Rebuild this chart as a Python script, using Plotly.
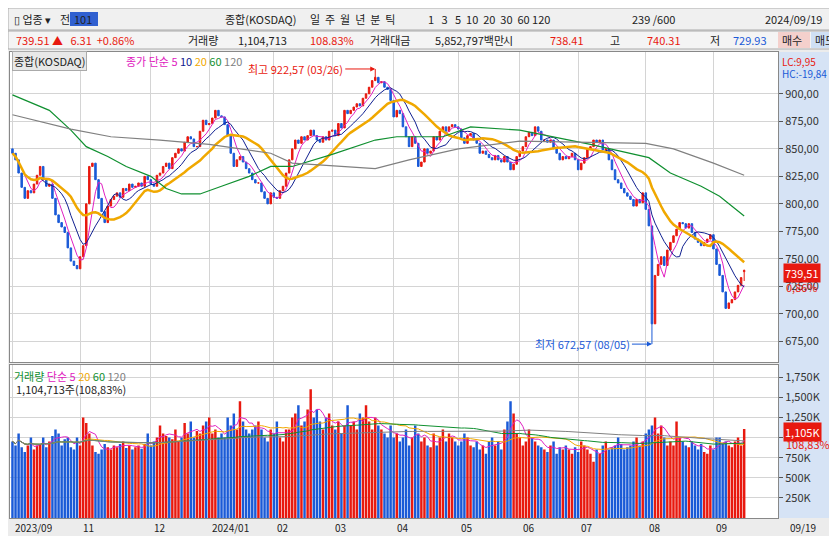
import numpy as np
import pandas as pd
import plotly.graph_objects as go
from plotly.subplots import make_subplots

# daily closes of KOSDAQ composite (239 sessions)
CLOSES = [
    846, 840, 828, 815, 805, 812, 810, 818, 826, 834,
    822, 816, 818, 805, 790, 783, 779, 774, 760, 748,
    744, 741, 752, 762, 800, 834, 837, 822, 805, 793,
    783, 798, 804, 807, 810, 806, 814, 812, 818, 815,
    816, 819, 816, 825, 822, 818, 816, 826, 828, 834,
    837, 832, 842, 846, 850, 848, 856, 861, 859, 852,
    852, 866, 876, 872, 873, 878, 885, 880, 879, 872,
    862, 846, 834, 840, 843, 838, 832, 828, 822, 819,
    819, 811, 805, 800, 810, 806, 805, 812, 816, 828,
    840, 850, 858, 855, 861, 858, 862, 867, 862, 858,
    856, 861, 858, 866, 867, 862, 873, 869, 885, 882,
    885, 888, 891, 889, 896, 900, 906, 912, 915, 910,
    911, 906, 904, 894, 879, 885, 882, 870, 861, 852,
    861, 855, 834, 838, 850, 846, 848, 861, 858, 866,
    870, 866, 870, 872, 870, 868, 860, 855, 862, 864,
    858, 855, 846, 848, 845, 842, 840, 844, 840, 838,
    843, 838, 831, 836, 843, 848, 852, 861, 865, 862,
    870, 866, 858, 858, 856, 858, 850, 846, 840, 843,
    841, 843, 846, 840, 831, 837, 842, 850, 852, 858,
    856, 858, 849, 850, 840, 831, 822, 819, 814, 810,
    807, 804, 798, 804, 801, 810, 795, 780, 691, 735,
    745, 752, 744, 758, 765, 771, 777, 783, 782, 778,
    782, 774, 768, 765, 762, 765, 768, 772, 759, 745,
    735, 720, 705, 710, 713, 720, 726, 733, 739.51,
]
FIRST_OPEN = 850
HIGH_DAY, HIGH_VALUE = 118, 922.57
LOW_DAY, LOW_VALUE = 208, 672.57
LAST_OPEN, LAST_HIGH, LAST_LOW = 738.41, 740.31, 729.93

# volume in thousand shares
VOLUMES = [
    950, 900, 1050, 880, 820, 900, 1000, 850, 900, 920,
    1000, 880, 950, 1020, 1100, 1050, 900, 980, 1000, 880,
    850, 1000, 900, 1250, 1180, 1050, 900, 820, 800, 850,
    920, 880, 850, 900, 880, 920, 950, 870, 900, 850,
    880, 900, 860, 920, 1050, 900, 950, 1000, 1150, 1050,
    1020, 1000, 980, 1100, 950, 1000, 1180, 1050, 1200, 1000,
    1080, 1050, 1150, 1200, 1250, 1050, 1100, 1000, 1050, 1000,
    1250, 1150, 1300, 1100, 1450, 1200, 1100, 1050, 1100, 1150,
    1200, 1100, 1000, 950, 1100, 1050, 1200, 1000, 950, 1100,
    1100, 1250, 1300, 1400, 1150, 1200, 1350, 1600, 1250, 1350,
    1200, 1100, 1250, 1300, 1150, 1100, 1200, 1050, 1150, 1400,
    1150, 1200, 1100, 1300, 1250, 1400, 1200, 1100, 1250, 1150,
    1100, 1050, 1000, 1150, 1000, 1050, 950, 1000, 1100, 900,
    1000, 1150, 1050, 950, 1000, 900, 880, 1050, 900, 1000,
    1100, 950, 1050, 1000, 950, 900, 950, 1050, 1000, 900,
    880, 950, 850, 900, 800, 950, 1000, 900, 950, 850,
    1100, 1200, 1450, 1300, 1050, 1000, 900, 950, 1100, 1000,
    950, 900, 880, 850, 820, 900, 950, 800, 880, 850,
    900, 850, 800, 880, 820, 950, 900, 850, 800, 700,
    850, 800, 900, 950, 850, 880, 900, 1000, 920, 850,
    880, 900, 950, 1000, 900, 950, 1050, 1100, 1150, 1250,
    1050, 1150, 1000, 900, 950, 900, 1200, 1000, 950, 900,
    880, 950, 900, 850, 920, 820, 800, 900, 850, 1000,
    1000, 920, 950, 900, 880, 950, 1000, 900, 1105,
]

# 60 / 120 day averages (day index, value)
MA60_DAYS = [0, 12, 19, 24, 31, 37, 45, 50, 55, 61, 68, 77, 84, 91, 104, 118, 125, 140, 149, 165, 188, 207, 214, 224, 230, 238]
MA60_VALS = [899, 885, 867, 852, 843, 834, 825, 814, 809, 809, 816, 825, 834, 834, 845, 858, 861, 861, 870, 867, 854, 842, 828, 816, 807, 789]
MA120_DAYS = [0, 19, 32, 48, 64, 84, 91, 118, 129, 145, 165, 206, 215, 228, 238]
MA120_VALS = [881, 868, 861, 858, 854, 846, 837, 832, 840, 850, 857, 855, 850, 837, 826]

MONTH_DAYS = [0, 22, 45, 64, 85, 104, 124, 145, 165, 184, 206, 228]
MONTH_TEXT = ["2023/09", "11", "12", "2024/01", "02", "03", "04", "05", "06", "07", "08", "09"]
PRICE_TICKS = [675, 700, 725, 750, 775, 800, 825, 850, 875, 900]
VOL_TICKS = [250, 500, 750, 1000, 1250, 1500, 1750]

RED, BLUE = "#e8190f", "#1a5ad7"
FONT = "Noto Sans CJK KR"

n = len(CLOSES)
x = np.arange(n)
close = pd.Series(CLOSES, dtype=float)
opens = close.shift(1).fillna(FIRST_OPEN)
opens.iloc[-1] = LAST_OPEN
high = np.maximum(opens, close)
low = np.minimum(opens, close)
high[HIGH_DAY] = HIGH_VALUE
low[LOW_DAY] = LOW_VALUE
high.iloc[-1] = LAST_HIGH
low.iloc[-1] = LAST_LOW
up = close >= opens

vol = pd.Series(VOLUMES, dtype=float)

fig = make_subplots(rows=2, cols=1, shared_xaxes=True, vertical_spacing=0.006,
                    row_heights=[0.67, 0.33])

for mask, col in [(up, RED), (~up, BLUE)]:
    fig.add_trace(go.Candlestick(
        x=x[mask], open=opens[mask], high=high[mask], low=low[mask], close=close[mask],
        increasing=dict(line=dict(color=col, width=1), fillcolor=col),
        decreasing=dict(line=dict(color=col, width=1), fillcolor=col),
        whiskerwidth=0, showlegend=False), row=1, col=1)

for w, col, lw in [(5, "#e020c0", 1), (10, "#102090", 1), (20, "#f0a800", 2.5)]:
    fig.add_trace(go.Scatter(x=x, y=close.rolling(w, min_periods=1).mean(), mode="lines",
                             line=dict(color=col, width=lw), showlegend=False), row=1, col=1)
fig.add_trace(go.Scatter(x=MA60_DAYS, y=MA60_VALS, mode="lines",
                         line=dict(color="#109030", width=1.2), showlegend=False), row=1, col=1)
fig.add_trace(go.Scatter(x=MA120_DAYS, y=MA120_VALS, mode="lines",
                         line=dict(color="#808080", width=1.2), showlegend=False), row=1, col=1)

fig.add_trace(go.Bar(x=x, y=vol, marker=dict(color=np.where(up, RED, BLUE), line_width=0),
                     width=0.8, showlegend=False), row=2, col=1)
for w, col in [(5, "#e020c0"), (20, "#f0a800"), (60, "#109030"), (120, "#808080")]:
    fig.add_trace(go.Scatter(x=x, y=vol.rolling(w, min_periods=1).mean(), mode="lines",
                             line=dict(color=col, width=1), showlegend=False), row=2, col=1)

grid = "#d4d4d4"
fig.update_xaxes(range=[-0.8, 249], tickvals=MONTH_DAYS, showgrid=True, gridcolor=grid,
                 rangeslider_visible=False, showline=True, linecolor="#888", mirror=True,
                 ticks="", zeroline=False, showticklabels=False)
fig.update_yaxes(side="right", showgrid=True, gridcolor=grid, showline=True, linecolor="#888",
                 mirror=True, ticks="outside", ticklen=4, tickcolor="#555",
                 tickfont=dict(size=11, color="#333"), zeroline=False)
fig.update_yaxes(range=[656, 938], tickvals=PRICE_TICKS,
                 ticktext=[f"{v},00" for v in PRICE_TICKS], row=1, col=1)
fig.update_yaxes(range=[0, 1900], tickvals=VOL_TICKS,
                 ticktext=[f"{v:,}K" for v in VOL_TICKS], row=2, col=1)

ann = []
def txt(xp, yp, s, col="#222", size=11, anchor="left", **kw):
    ann.append(dict(x=xp, y=yp, xref="paper", yref="paper", text=s, showarrow=False,
                    xanchor=anchor, yanchor="middle", font=dict(color=col, size=size, family=FONT), **kw))

def px_(xp):
    return (xp - 2) / 768

def py_(yp):
    return 1 - (yp - 44) / 466

# month labels under the volume panel, placed from the day index
for d, s in zip(MONTH_DAYS, MONTH_TEXT):
    ann.append(dict(x=d, y=0, xref="x2", yref="paper", text=s, showarrow=False,
                    xanchor="left", yanchor="top", xshift=1, height=15, valign="middle",
                    font=dict(color="#222", size=10, family=FONT)))

txt(px_(4), py_(53), "종합(KOSDAQ)", bgcolor="#e8e8e8", bordercolor="#aaa")
txt(px_(116), py_(53), "<span style='color:#e020c0'>종가 단순 5</span> <span style='color:#102090'>10</span> "
    "<span style='color:#f0a800'>20</span> <span style='color:#109030'>60</span> <span style='color:#808080'>120</span>")
txt(px_(4), py_(368), "<span style='color:#109030'>거래량</span> <span style='color:#e020c0'>단순 5</span> "
    "<span style='color:#f0a800'>20</span> <span style='color:#109030'>60</span> <span style='color:#808080'>120</span>")
txt(px_(6), py_(381), "1,104,713주(108,83%)")
txt(px_(772), py_(54), "LC:9,95", col=RED, size=10)
txt(px_(772), py_(66), "HC:-19,84", col=BLUE, size=10)
txt(px_(775), py_(265), "739,51", col="white", bgcolor=RED)
txt(px_(776), py_(279), "0,86%", col=RED)
txt(px_(775), py_(424), "1,105K", col="white", bgcolor=RED)
txt(px_(776), py_(436), "108,83%", col=RED)
ann.append(dict(x=px_(780), y=0, xref="paper", yref="paper", text="09/19", showarrow=False,
                xanchor="left", yanchor="top", height=15, valign="middle",
                font=dict(color="#222", size=10, family=FONT)))

top = [(4, "▯ 업종 ▾"), (50, "전"), (64, "101"),
       (215, "종합(KOSDAQ)"), (300, "일  주  월  년  분  틱"),
       (418, "1   3   5  10  20  30  60 120"), (622, "239 /600"), (755, "2024/09/19")]
for xp, s in top:
    txt(px_(xp), py_(11), s)
info = [(6, "739.51 ▲   6.31  +0.86%", RED), (178, "거래량", "#222"), (228, "1,104,713", "#222"),
        (300, "108.83%", RED), (360, "거래대금", "#222"), (425, "5,852,797백만", "#222"),
        (493, "시", "#222"), (540, "738.41", RED), (600, "고", "#222"), (637, "740.31", RED),
        (700, "저", "#222"), (723, "729.93", BLUE), (772, "매수", "#222"), (805, "매도", "#222")]
for xp, s, c in info:
    txt(px_(xp), py_(32), s, col=c)

fig.add_annotation(x=HIGH_DAY, y=HIGH_VALUE, xref="x", yref="y", text="최고 922,57 (03/26)",
                   showarrow=True, arrowhead=2, arrowcolor=RED, ax=-30, ay=0, xanchor="right",
                   font=dict(color=RED, size=11, family=FONT))
fig.add_annotation(x=LOW_DAY, y=LOW_VALUE, xref="x", yref="y", text="최저 672,57 (08/05)",
                   showarrow=True, arrowhead=2, arrowcolor=BLUE, ax=-20, ay=0, xanchor="right",
                   font=dict(color=BLUE, size=11, family=FONT))
for a in ann:
    fig.add_annotation(**a)

# toolbar strips above the chart and the blue scale column
shapes = [
    dict(type="rect", xref="paper", yref="paper", x0=px_(0), x1=px_(837), y0=py_(0), y1=py_(22),
         fillcolor="#f0f0f0", line=dict(color="#aaa", width=1), layer="below"),
    dict(type="rect", xref="paper", yref="paper", x0=px_(0), x1=px_(837), y0=py_(23), y1=py_(41),
         fillcolor="#f4f4f4", line=dict(color="#aaa", width=1), layer="below"),
    dict(type="rect", xref="paper", yref="paper", x0=px_(62), x1=px_(90), y0=py_(4), y1=py_(18),
         fillcolor="#3060d0", line_width=0, layer="below"),
    dict(type="rect", xref="paper", yref="paper", x0=px_(771), x1=px_(837), y0=0, y1=1,
         fillcolor="#d6e3f5", line_width=0, layer="below"),
    dict(type="rect", xref="paper", yref="paper", x0=px_(770), x1=px_(802), y0=py_(24), y1=py_(40),
         fillcolor="#f4d0cc", line_width=0, layer="below"),
    dict(type="rect", xref="paper", yref="paper", x0=px_(803), x1=px_(837), y0=py_(24), y1=py_(40),
         fillcolor="#cfe0f5", line_width=0, layer="below"),
]
fig.update_layout(shapes=shapes)

fig.update_layout(width=837, height=536, margin=dict(l=2, r=67, t=44, b=26),
                  plot_bgcolor="white", paper_bgcolor="#ececec", bargap=0.1,
                  font=dict(family=FONT, size=11), hovermode=False)

fig.write_html("out.html")
